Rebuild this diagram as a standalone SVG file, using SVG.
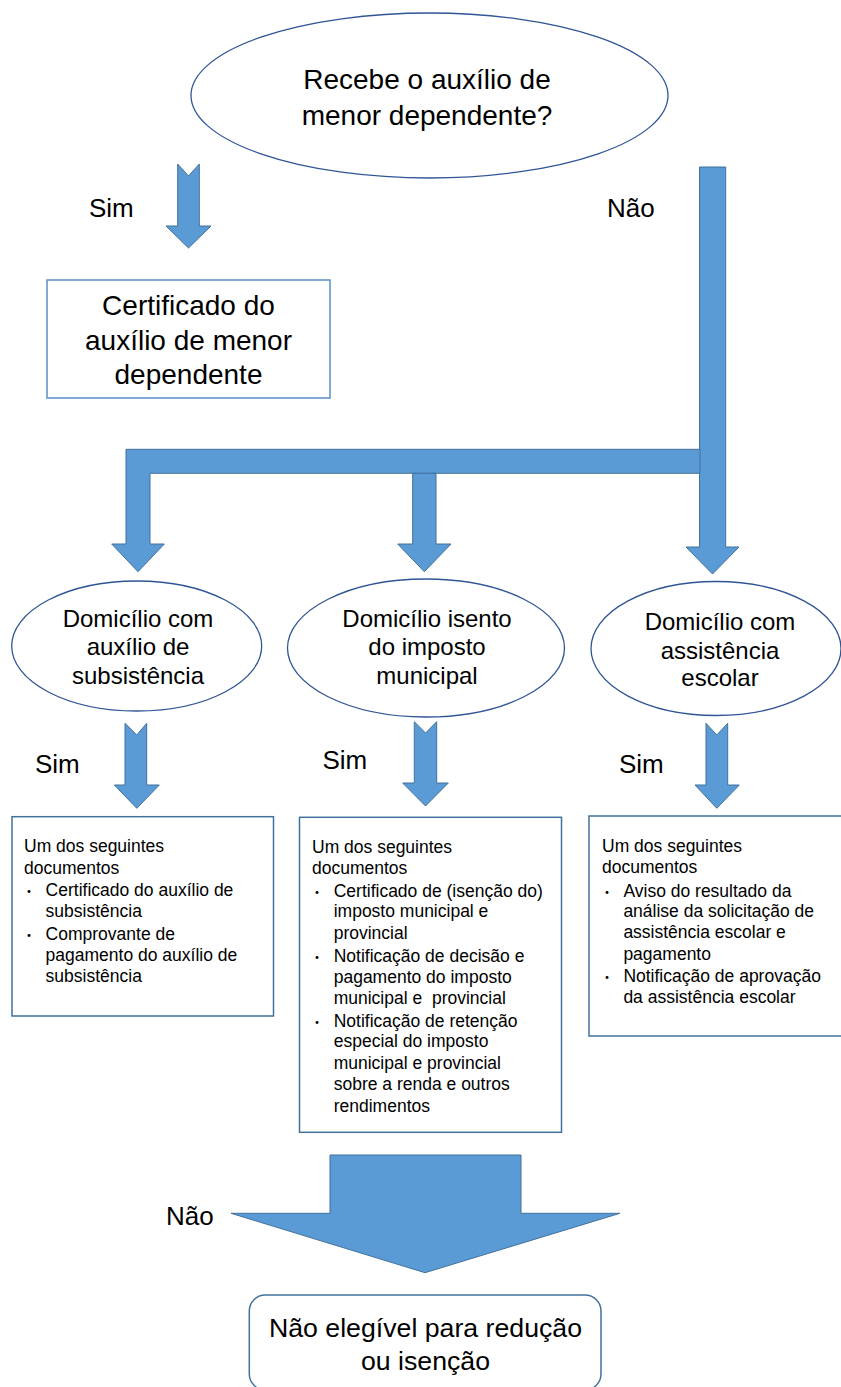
<svg xmlns="http://www.w3.org/2000/svg" width="841" height="1387" viewBox="0 0 841 1387">
<style>
.arr{fill:#5B9BD5;stroke:#41719C;stroke-width:1}
.ell{fill:#fff;stroke:#2F5597;stroke-width:1.3}
.box{fill:#fff;stroke:#41719C;stroke-width:1.5}
.t{font-family:"Liberation Sans",Arial,sans-serif;fill:#000}
.c{text-anchor:middle}
.big{font-size:28px}
.mid{font-size:24px}
.lbl{font-size:26px}
.doc{font-size:17.5px}
.bul{font-family:"Noto Sans CJK JP","Liberation Sans",sans-serif;font-size:14px;text-anchor:middle;fill:#000}
</style>
<rect width="841" height="1387" fill="#fff"/>
<g id="connectors">
<path class="arr" d="M177.7,164 L188.5,176 L199.3,164 L199.3,226 L211,226 L188.5,248 L166,226 L177.7,226 Z"/>
<path class="arr" d="M699.5,167 L725.7,167 L725.7,547 L739,547 L712.5,574 L686,547 L699.5,547 Z"/>
<path class="arr" d="M700,449.3 L126,449.3 L126,544 L111.7,544 L138,571.7 L164.3,544 L150,544 L150,473.3 L700,473.3 Z"/>
<path class="arr" d="M412.7,473.3 L412.7,544 L397.7,544 L424.3,571.7 L451,544 L436,544 L436,473.3 Z"/>
<path class="arr" d="M125,723.3 L136.8,735 L146.7,723.3 L146.7,785 L159.3,785 L136.8,808.3 L114.3,785 L125,785 Z"/>
<path class="arr" d="M414.3,721.7 L425.5,733 L436.7,721.7 L436.7,783 L448.3,783 L425.5,806 L402.7,783 L414.3,783 Z"/>
<path class="arr" d="M706,723.3 L716.8,735 L727.7,723.3 L727.7,785 L739.3,785 L716.8,808.3 L695,785 L706,785 Z"/>
<path class="arr" d="M330,1155 L521,1155 L521,1213.3 L620,1213.3 L425,1272.7 L231,1213.3 L330,1213.3 Z"/>
<text class="t lbl" x="89" y="217">Sim</text>
<text class="t lbl" x="607" y="217">Não</text>
<text class="t lbl" x="35" y="773">Sim</text>
<text class="t lbl" x="322.5" y="769">Sim</text>
<text class="t lbl" x="619" y="773">Sim</text>
<text class="t lbl" x="166" y="1225">Não</text>
</g>
<g id="q1">
<ellipse class="ell" cx="429.5" cy="95.5" rx="238.5" ry="82.5"/>
<text class="t big c" x="427" y="89">Recebe o auxílio de</text>
<text class="t big c" x="427" y="125">menor dependente?</text>
</g>
<g id="cert">
<rect class="box" x="47" y="280" width="283" height="118" style="stroke:#5B8FC7"/>
<text class="t big c" x="188.5" y="315">Certificado do</text>
<text class="t big c" x="188.5" y="350">auxílio de menor</text>
<text class="t big c" x="188.5" y="384">dependente</text>
</g>
<g id="q2a">
<ellipse class="ell" cx="136.7" cy="646" rx="125" ry="65"/>
<text class="t mid c" x="138" y="627">Domicílio com</text>
<text class="t mid c" x="138" y="655">auxílio de</text>
<text class="t mid c" x="138" y="684">subsistência</text>
</g>
<g id="q2b">
<ellipse class="ell" cx="426" cy="648" rx="138.5" ry="69"/>
<text class="t mid c" x="427" y="627">Domicílio isento</text>
<text class="t mid c" x="427" y="655">do imposto</text>
<text class="t mid c" x="427" y="684">municipal</text>
</g>
<g id="q2c">
<ellipse class="ell" cx="716" cy="648.5" rx="125" ry="67"/>
<text class="t mid c" x="720" y="630">Domicílio com</text>
<text class="t mid c" x="720" y="659">assistência</text>
<text class="t mid c" x="720" y="686">escolar</text>
</g>
<g id="docs1">
<rect class="box" x="12" y="816.7" width="261.5" height="199.3"/>
<text class="t doc" x="24" y="852">Um dos seguintes</text>
<text class="t doc" x="24" y="873.5">documentos</text>
<text class="bul" x="29" y="896">・</text>
<text class="t doc" x="45.6" y="896">Certificado do auxílio de</text>
<text class="t doc" x="45.6" y="917">subsistência</text>
<text class="bul" x="29" y="940">・</text>
<text class="t doc" x="45.6" y="940">Comprovante de</text>
<text class="t doc" x="45.6" y="961">pagamento do auxílio de</text>
<text class="t doc" x="45.6" y="982">subsistência</text>
</g>
<g id="docs2">
<rect class="box" x="299.5" y="817.3" width="262" height="315"/>
<text class="t doc" x="312" y="853.3">Um dos seguintes</text>
<text class="t doc" x="312" y="874">documentos</text>
<text class="bul" x="317" y="896.7">・</text>
<text class="t doc" x="333.7" y="896.7">Certificado de (isenção do)</text>
<text class="t doc" x="333.7" y="917.3">imposto municipal e</text>
<text class="t doc" x="333.7" y="939.3">provincial</text>
<text class="bul" x="317" y="961.7">・</text>
<text class="t doc" x="333.7" y="961.7">Notificação de decisão e</text>
<text class="t doc" x="333.7" y="982.7">pagamento do imposto</text>
<text class="t doc" x="333.7" y="1004" xml:space="preserve">municipal e  provincial</text>
<text class="bul" x="317" y="1026.7">・</text>
<text class="t doc" x="333.7" y="1026.7">Notificação de retenção</text>
<text class="t doc" x="333.7" y="1047.3">especial do imposto</text>
<text class="t doc" x="333.7" y="1069.3">municipal e provincial</text>
<text class="t doc" x="333.7" y="1090">sobre a renda e outros</text>
<text class="t doc" x="333.7" y="1111.7">rendimentos</text>
</g>
<g id="docs3">
<rect class="box" x="589" y="816" width="253" height="220"/>
<text class="t doc" x="602" y="851.7">Um dos seguintes</text>
<text class="t doc" x="602" y="873.3">documentos</text>
<text class="bul" x="607" y="896.7">・</text>
<text class="t doc" x="623.4" y="896.7">Aviso do resultado da</text>
<text class="t doc" x="623.4" y="917.3">análise da solicitação de</text>
<text class="t doc" x="623.4" y="938.3">assistência escolar e</text>
<text class="t doc" x="623.4" y="960">pagamento</text>
<text class="bul" x="607" y="981.7">・</text>
<text class="t doc" x="623.4" y="981.7">Notificação de aprovação</text>
<text class="t doc" x="623.4" y="1002.7">da assistência escolar</text>
</g>
<g id="final">
<rect class="box" x="249.3" y="1295" width="351.7" height="95" rx="16" ry="16"/>
<text class="t c" style="font-size:26.7px" x="425.5" y="1337">Não elegível para redução</text>
<text class="t c" style="font-size:26.7px" x="425.5" y="1370">ou isenção</text>
</g>
</svg>
